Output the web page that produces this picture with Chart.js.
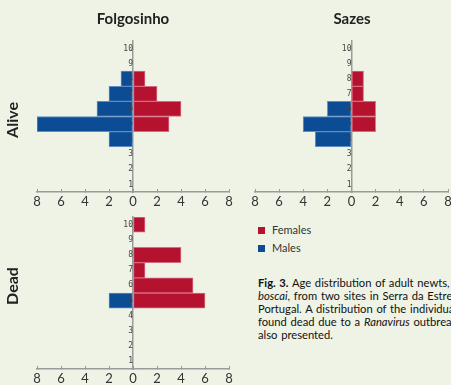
<!DOCTYPE html>
<html>
<head>
<meta charset="utf-8">
<script src="https://cdn.jsdelivr.net/npm/chart.js@4.4.1/dist/chart.umd.min.js"></script>
<style>
  html, body { margin: 0; padding: 0; }
  body { width: 451px; height: 385px; overflow: hidden; position: relative; background: #eef3e6; font-family: Lato, 'Open Sans', sans-serif; color: #222; }
  canvas { position: absolute; }
  .title { position: absolute; width: 120px; text-align: center; font-weight: bold; font-size: 15px; line-height: 18px; }
  .row { position: absolute; width: 60px; text-align: center; font-weight: bold; font-size: 16px; line-height: 18px; transform: rotate(-90deg); }
  .legend { position: absolute; left: 258px; font-size: 11px; line-height: 14px; color: #333; }
  .legend span { display: inline-block; width: 7px; height: 7px; margin-right: 7px; vertical-align: 0px; }
  .caption { position: absolute; left: 258px; top: 276px; font-size: 11.2px; line-height: 13px; white-space: nowrap; color: #111; word-spacing: 0.9px; }
</style>
</head>
<body>
<canvas id="folgAlive" width="240" height="212" style="left:0;top:0"></canvas>
<canvas id="sazAlive" width="230" height="212" style="left:240px;top:0"></canvas>
<canvas id="folgDead" width="240" height="180" style="left:0;top:205px"></canvas>

<div class="title" style="left:73px;top:9px">Folgosinho</div>
<div class="title" style="left:292px;top:9px">Sazes</div>
<div class="row" style="left:-18px;top:111px">Alive</div>
<div class="row" style="left:-18px;top:277px">Dead</div>

<div class="legend" style="top:223px"><span style="background:#b4122f"></span>Females</div>
<div class="legend" style="top:241px"><span style="background:#0b4c94"></span>Males</div>

<div class="caption">
  <div><b>Fig. 3.</b> Age distribution of adult newts, <i>Lissotriton</i></div>
  <div><i>boscai</i>, from two sites in Serra da Estrela,</div>
  <div>Portugal. A distribution of the individuals</div>
  <div>found dead due to a <i>Ranavirus</i> outbreak is</div>
  <div>also presented.</div>
</div>

<script>
// age classes (years), bottom to top
const ages = ['1', '2', '3', '4', '5', '6', '7', '8', '9', '10'];
const xTicks = [-8, -6, -4, -2, 0, 2, 4, 6, 8];

// number of newts per age class
const folgAliveFemales = [0, 0, 0, 0, 3, 4, 2, 1, 0, 0];
const folgAliveMales   = [0, 0, 0, 2, 8, 3, 2, 1, 0, 0];
const sazAliveFemales  = [0, 0, 0, 0, 2, 2, 1, 1, 0, 0];
const sazAliveMales    = [0, 0, 0, 3, 4, 2, 0, 0, 0, 0];
const folgDeadFemales  = [0, 0, 0, 0, 6, 5, 1, 4, 0, 1];
const folgDeadMales    = [0, 0, 0, 0, 2, 0, 0, 0, 0, 0];

const RED = '#b4122f';
const BLUE = '#0b4c94';
const AXIS = '#9a9a9a';

Chart.defaults.font.family = 'Lato, "Open Sans", sans-serif';

function pyramid(id, females, males, pad, axisH) {
  return new Chart(document.getElementById(id), {
    type: 'bar',
    data: {
      labels: ages,
      datasets: [
        { label: 'Females', data: females, backgroundColor: RED, borderColor: '#d86b80', borderWidth: 1, borderSkipped: false },
        { label: 'Males', data: males.map(v => -v), backgroundColor: BLUE, borderColor: '#5f8cc2', borderWidth: 1, borderSkipped: false }
      ]
    },
    options: {
      indexAxis: 'y',
      responsive: false,
      animation: false,
      layout: { padding: pad },
      plugins: { legend: { display: false }, tooltip: { enabled: false } },
      datasets: { bar: { barPercentage: 1, categoryPercentage: 1 } },
      scales: {
        x: {
          stacked: true,
          min: -8, max: 8,
          afterBuildTicks: s => { s.ticks = xTicks.map(v => ({ value: v })); },
          afterFit: s => { s.height = axisH; },
          ticks: { callback: v => Math.abs(v), color: '#333', font: { size: 13 }, padding: 5, maxRotation: 0 },
          grid: { drawOnChartArea: false, drawTicks: true, tickLength: -3, color: AXIS },
          border: { color: AXIS, width: 1.5 }
        },
        y: {
          stacked: true,
          reverse: true,
          position: { x: 0 },
          // age labels sit on top of the bars, axis line underneath
          ticks: { z: 1, color: '#444', font: { family: '"DejaVu Sans Mono", monospace', size: 8 }, padding: 2 },
          grid: { display: false, drawTicks: false },
          border: { color: AXIS, width: 1.5, z: 0 }
        }
      }
    }
  });
}

pyramid('folgAlive', folgAliveFemales, folgAliveMales, { left: 37, right: 11, top: 41, bottom: 2 }, 18);
pyramid('sazAlive', sazAliveFemales, sazAliveMales, { left: 15, right: 22, top: 41, bottom: 2 }, 18);
pyramid('folgDead', folgDeadFemales, folgDeadMales, { left: 37, right: 11, top: 12, bottom: 0 }, 16);
</script>
</body>
</html>
